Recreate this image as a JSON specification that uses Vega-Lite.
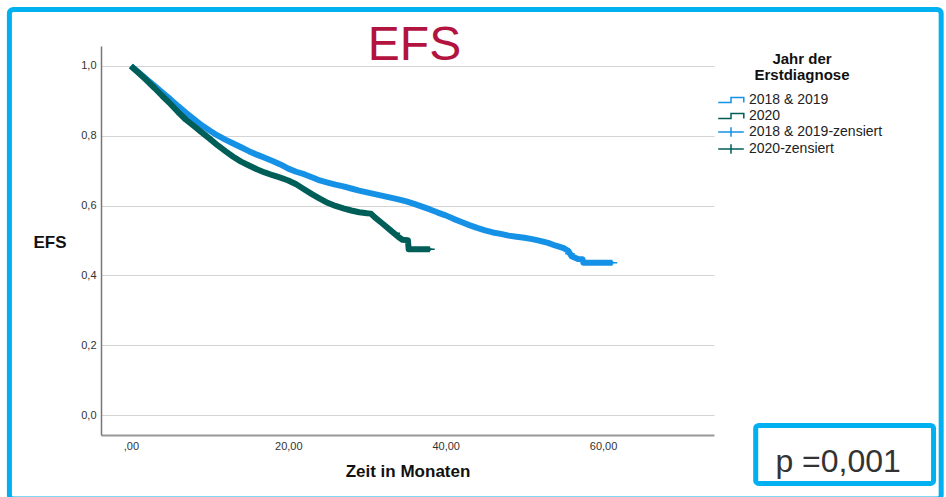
{
  "$schema": "https://vega.github.io/schema/vega-lite/v6.json",
  "autosize": "none",
  "width": 613,
  "height": 389,
  "padding": {"left": 101, "top": 46, "right": 232, "bottom": 62},
  "background": "white",
  "title": {
    "text": "EFS",
    "font": "Liberation Sans",
    "fontSize": 48,
    "fontWeight": "normal",
    "color": "#B3133F",
    "anchor": "middle",
    "frame": "group",
    "baseline": "alphabetic",
    "offset": -101,
    "dx": 7
  },
  "datasets": {
    "kurven": [
      {"serie": "2018 & 2019", "t": 0, "s": 1.0},
      {"serie": "2018 & 2019", "t": 1, "s": 0.981},
      {"serie": "2018 & 2019", "t": 2, "s": 0.962},
      {"serie": "2018 & 2019", "t": 3, "s": 0.943},
      {"serie": "2018 & 2019", "t": 4, "s": 0.924},
      {"serie": "2018 & 2019", "t": 5, "s": 0.905},
      {"serie": "2018 & 2019", "t": 6, "s": 0.885},
      {"serie": "2018 & 2019", "t": 7, "s": 0.866},
      {"serie": "2018 & 2019", "t": 8, "s": 0.848},
      {"serie": "2018 & 2019", "t": 9, "s": 0.83},
      {"serie": "2018 & 2019", "t": 10, "s": 0.815},
      {"serie": "2018 & 2019", "t": 11, "s": 0.801},
      {"serie": "2018 & 2019", "t": 12, "s": 0.789},
      {"serie": "2018 & 2019", "t": 13, "s": 0.778},
      {"serie": "2018 & 2019", "t": 14, "s": 0.767},
      {"serie": "2018 & 2019", "t": 15, "s": 0.756},
      {"serie": "2018 & 2019", "t": 16, "s": 0.746},
      {"serie": "2018 & 2019", "t": 17, "s": 0.737},
      {"serie": "2018 & 2019", "t": 18, "s": 0.728},
      {"serie": "2018 & 2019", "t": 19, "s": 0.718},
      {"serie": "2018 & 2019", "t": 20, "s": 0.706},
      {"serie": "2018 & 2019", "t": 21, "s": 0.697},
      {"serie": "2018 & 2019", "t": 22, "s": 0.69},
      {"serie": "2018 & 2019", "t": 23, "s": 0.681},
      {"serie": "2018 & 2019", "t": 24, "s": 0.672},
      {"serie": "2018 & 2019", "t": 25, "s": 0.666},
      {"serie": "2018 & 2019", "t": 26, "s": 0.66},
      {"serie": "2018 & 2019", "t": 27, "s": 0.655},
      {"serie": "2018 & 2019", "t": 28, "s": 0.649},
      {"serie": "2018 & 2019", "t": 29, "s": 0.643},
      {"serie": "2018 & 2019", "t": 30, "s": 0.638},
      {"serie": "2018 & 2019", "t": 31, "s": 0.633},
      {"serie": "2018 & 2019", "t": 32, "s": 0.628},
      {"serie": "2018 & 2019", "t": 33, "s": 0.623},
      {"serie": "2018 & 2019", "t": 34, "s": 0.618},
      {"serie": "2018 & 2019", "t": 35, "s": 0.612},
      {"serie": "2018 & 2019", "t": 36, "s": 0.605},
      {"serie": "2018 & 2019", "t": 37, "s": 0.597},
      {"serie": "2018 & 2019", "t": 38, "s": 0.589},
      {"serie": "2018 & 2019", "t": 39, "s": 0.58},
      {"serie": "2018 & 2019", "t": 40, "s": 0.572},
      {"serie": "2018 & 2019", "t": 41, "s": 0.562},
      {"serie": "2018 & 2019", "t": 42, "s": 0.553},
      {"serie": "2018 & 2019", "t": 43, "s": 0.544},
      {"serie": "2018 & 2019", "t": 44, "s": 0.536},
      {"serie": "2018 & 2019", "t": 45, "s": 0.529},
      {"serie": "2018 & 2019", "t": 46, "s": 0.523},
      {"serie": "2018 & 2019", "t": 47, "s": 0.519},
      {"serie": "2018 & 2019", "t": 48, "s": 0.514},
      {"serie": "2018 & 2019", "t": 49, "s": 0.511},
      {"serie": "2018 & 2019", "t": 50, "s": 0.508},
      {"serie": "2018 & 2019", "t": 51, "s": 0.504},
      {"serie": "2018 & 2019", "t": 52, "s": 0.499},
      {"serie": "2018 & 2019", "t": 53, "s": 0.493},
      {"serie": "2018 & 2019", "t": 54, "s": 0.485},
      {"serie": "2018 & 2019", "t": 55, "s": 0.478},
      {"serie": "2018 & 2019", "t": 55.6, "s": 0.47},
      {"serie": "2018 & 2019", "t": 56, "s": 0.455},
      {"serie": "2018 & 2019", "t": 56.8, "s": 0.447},
      {"serie": "2018 & 2019", "t": 57.4, "s": 0.446},
      {"serie": "2018 & 2019", "t": 57.5, "s": 0.436},
      {"serie": "2018 & 2019", "t": 61.2, "s": 0.436},
      {"serie": "2020", "t": 0, "s": 1.0},
      {"serie": "2020", "t": 1, "s": 0.98},
      {"serie": "2020", "t": 2, "s": 0.959},
      {"serie": "2020", "t": 3, "s": 0.937},
      {"serie": "2020", "t": 4, "s": 0.914},
      {"serie": "2020", "t": 5, "s": 0.892},
      {"serie": "2020", "t": 6, "s": 0.868},
      {"serie": "2020", "t": 7, "s": 0.846},
      {"serie": "2020", "t": 8, "s": 0.828},
      {"serie": "2020", "t": 9, "s": 0.81},
      {"serie": "2020", "t": 10, "s": 0.792},
      {"serie": "2020", "t": 11, "s": 0.773},
      {"serie": "2020", "t": 12, "s": 0.756},
      {"serie": "2020", "t": 13, "s": 0.74},
      {"serie": "2020", "t": 14, "s": 0.726},
      {"serie": "2020", "t": 15, "s": 0.715},
      {"serie": "2020", "t": 16, "s": 0.704},
      {"serie": "2020", "t": 17, "s": 0.695},
      {"serie": "2020", "t": 18, "s": 0.687},
      {"serie": "2020", "t": 19, "s": 0.68},
      {"serie": "2020", "t": 20, "s": 0.672},
      {"serie": "2020", "t": 21, "s": 0.661},
      {"serie": "2020", "t": 22, "s": 0.647},
      {"serie": "2020", "t": 23, "s": 0.633},
      {"serie": "2020", "t": 24, "s": 0.62},
      {"serie": "2020", "t": 25, "s": 0.608},
      {"serie": "2020", "t": 26, "s": 0.599},
      {"serie": "2020", "t": 27, "s": 0.592},
      {"serie": "2020", "t": 28, "s": 0.586},
      {"serie": "2020", "t": 29, "s": 0.581},
      {"serie": "2020", "t": 30, "s": 0.578},
      {"serie": "2020", "t": 30.5, "s": 0.577},
      {"serie": "2020", "t": 31, "s": 0.566},
      {"serie": "2020", "t": 32, "s": 0.548},
      {"serie": "2020", "t": 33, "s": 0.529},
      {"serie": "2020", "t": 34, "s": 0.51},
      {"serie": "2020", "t": 34.5, "s": 0.502},
      {"serie": "2020", "t": 35.2, "s": 0.501},
      {"serie": "2020", "t": 35.3, "s": 0.475},
      {"serie": "2020", "t": 38.0, "s": 0.475}
    ],
    "zensiert": [
      {"serie": "2018 & 2019-zensiert", "t": 54.3, "s": 0.484},
      {"serie": "2018 & 2019-zensiert", "t": 55.2, "s": 0.476},
      {"serie": "2018 & 2019-zensiert", "t": 55.8, "s": 0.462},
      {"serie": "2018 & 2019-zensiert", "t": 56.4, "s": 0.449},
      {"serie": "2018 & 2019-zensiert", "t": 57.0, "s": 0.447},
      {"serie": "2018 & 2019-zensiert", "t": 57.9, "s": 0.436},
      {"serie": "2018 & 2019-zensiert", "t": 58.6, "s": 0.436},
      {"serie": "2018 & 2019-zensiert", "t": 59.3, "s": 0.436},
      {"serie": "2018 & 2019-zensiert", "t": 60.0, "s": 0.436},
      {"serie": "2018 & 2019-zensiert", "t": 60.6, "s": 0.436},
      {"serie": "2018 & 2019-zensiert", "t": 61.2, "s": 0.436},
      {"serie": "2020-zensiert", "t": 33.6, "s": 0.521},
      {"serie": "2020-zensiert", "t": 34.3, "s": 0.508},
      {"serie": "2020-zensiert", "t": 34.9, "s": 0.502},
      {"serie": "2020-zensiert", "t": 35.6, "s": 0.475},
      {"serie": "2020-zensiert", "t": 36.3, "s": 0.475},
      {"serie": "2020-zensiert", "t": 37.0, "s": 0.475},
      {"serie": "2020-zensiert", "t": 37.7, "s": 0.475},
      {"serie": "2020-zensiert", "t": 38.0, "s": 0.475}
    ]
  },
  "layer": [
    {
      "data": {"name": "kurven"},
      "mark": {"type": "line", "interpolate": "linear", "strokeWidth": 6, "strokeJoin": "round"},
      "encoding": {
        "x": {
          "field": "t",
          "type": "quantitative",
          "scale": {"domain": [-3.8, 74.1], "nice": false, "zero": false},
          "axis": {
            "values": [0, 20, 40, 60],
            "grid": false,
            "ticks": false,
            "labelExpr": "datum.value === 0 ? ',00' : replace(format(datum.value, '.2f'), '.', ',')",
            "labelPadding": 5,
            "title": "Zeit in Monaten",
            "titleFontSize": 17,
            "titlePadding": 12,
            "domainColor": "#999999",
            "domainWidth": 2
          }
        },
        "y": {
          "field": "s",
          "type": "quantitative",
          "scale": {"domain": [-0.0573, 1.0573], "nice": false, "zero": false},
          "axis": {
            "values": [0, 0.2, 0.4, 0.6, 0.8, 1.0],
            "grid": true,
            "ticks": false,
            "labelExpr": "replace(format(datum.value, '.1f'), '.', ',')",
            "labelPadding": 5,
            "title": "EFS",
            "titleFontSize": 17,
            "titleAngle": 0,
            "titleAlign": "right",
            "titleBaseline": "middle",
            "titleX": -35,
            "titleY": 196,
            "domainColor": "#777777",
            "domainWidth": 1.5
          }
        },
        "color": {
          "field": "serie",
          "type": "nominal",
          "title": ["Jahr der", "Erstdiagnose"],
          "scale": {
            "domain": ["2018 & 2019", "2020", "2018 & 2019-zensiert", "2020-zensiert"],
            "range": ["#1591E6", "#005E58", "#1591E6", "#005E58"]
          }
        }
      }
    },
    {
      "data": {"name": "zensiert"},
      "mark": {"type": "point", "filled": false, "size": 36, "strokeWidth": 1.5, "opacity": 1},
      "encoding": {
        "x": {"field": "t", "type": "quantitative", "title": "Zeit in Monaten"},
        "y": {"field": "s", "type": "quantitative", "title": "EFS"},
        "color": {"field": "serie", "type": "nominal", "title": ["Jahr der", "Erstdiagnose"]},
        "shape": {
          "field": "serie",
          "type": "nominal",
          "title": ["Jahr der", "Erstdiagnose"],
          "scale": {
            "domain": ["2018 & 2019", "2020", "2018 & 2019-zensiert", "2020-zensiert"],
            "range": [
              "M-1.6,0.3H0V-0.3H1.6V0.3",
              "M-1.6,0.3H0V-0.3H1.6V0.3",
              "M-1.6,0H1.6M0,-0.6V0.6",
              "M-1.6,0H1.6M0,-0.6V0.6"
            ]
          }
        }
      }
    },
    {
      "data": {"values": [{}]},
      "mark": {"type": "rect", "fillOpacity": 0, "stroke": "#00B0F0", "strokeWidth": 5, "cornerRadius": 4},
      "encoding": {
        "x": {"datum": -15.44, "type": "quantitative", "title": "Zeit in Monaten"},
        "x2": {"datum": 102.97},
        "y": {"datum": 1.162, "type": "quantitative", "title": "EFS"},
        "y2": {"datum": -0.2407}
      }
    },
    {
      "data": {"values": [{}]},
      "mark": {"type": "rect", "fill": "white", "stroke": "#00B0F0", "strokeWidth": 5, "cornerRadius": 3},
      "encoding": {
        "x": {"datum": 79.4, "type": "quantitative", "title": "Zeit in Monaten"},
        "x2": {"datum": 102.0},
        "y": {"datum": -0.030, "type": "quantitative", "title": "EFS"},
        "y2": {"datum": -0.196}
      }
    },
    {
      "data": {"values": [{"p": "p =0,001"}]},
      "mark": {"type": "text", "align": "left", "baseline": "alphabetic", "fontSize": 32, "color": "#333333"},
      "encoding": {
        "x": {"datum": 81.9, "type": "quantitative", "title": "Zeit in Monaten"},
        "y": {"datum": -0.163, "type": "quantitative", "title": "EFS"},
        "text": {"field": "p"}
      }
    }
  ],
  "config": {
    "font": "Liberation Sans",
    "view": {"stroke": null},
    "axis": {
      "labelFontSize": 11,
      "labelColor": "#333333",
      "titleFontSize": 16,
      "titleFontWeight": "bold",
      "titleColor": "#111111",
      "gridColor": "#d4d4d4",
      "gridWidth": 1.2
    },
    "legend": {
      "orient": "none",
      "legendX": 621,
      "legendY": 6,
      "padding": 0,
      "titleFontSize": 15,
      "titleFontWeight": "bold",
      "titleColor": "#111111",
      "titleAnchor": "middle",
      "titleAlign": "center",
      "titleLineHeight": 16,
      "titlePadding": 8,
      "labelFontSize": 14,
      "labelColor": "#222222",
      "labelOffset": 9,
      "symbolSize": 256,
      "symbolStrokeWidth": 1.5,
      "rowPadding": 0
    }
  }
}
